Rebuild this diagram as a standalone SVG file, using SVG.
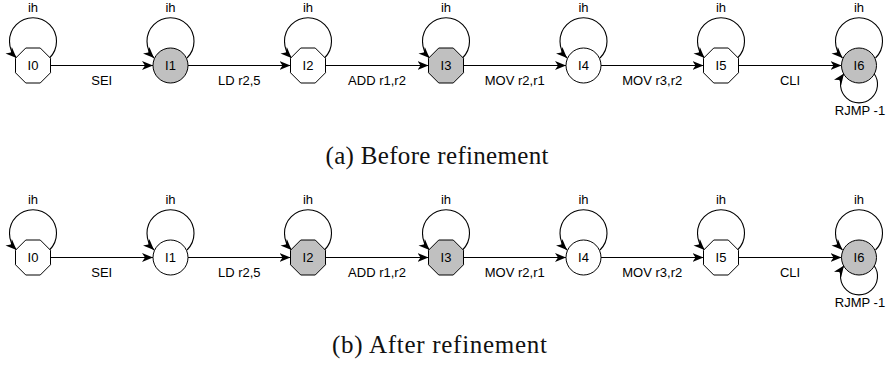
<svg xmlns="http://www.w3.org/2000/svg" width="895" height="369" viewBox="0 0 895 369">
<style>
.nd{stroke:#000;stroke-width:1;fill:#fff}
.g{fill:#c0c0c0}
.e{fill:none;stroke:#000;stroke-width:1.1;marker-end:url(#arr)}
.t{font-family:"Liberation Sans",Arial,sans-serif;font-size:13px;fill:#000;text-anchor:middle}
.cap{font-family:"Liberation Serif","Times New Roman",serif;font-size:25px;fill:#111;text-anchor:middle}
</style>
<defs>
<marker id="arr" viewBox="0 0 12 10" refX="11" refY="5" markerWidth="12" markerHeight="10" orient="auto" markerUnits="userSpaceOnUse">
<path d="M0,0.5 L11,5 L0,9.5 L3,5 z" fill="#000"/>
</marker>
<polygon id="oct" points="-7.25,-17.5 7.25,-17.5 17.5,-7.25 17.5,7.25 7.25,17.5 -7.25,17.5 -17.5,7.25 -17.5,-7.25"/>
</defs>

<!-- ===== Row (a) ===== -->
<g id="connectors-a">
<path class="e" d="M50.5,65.5 H153"/>
<path class="e" d="M188,65.5 H290.5"/>
<path class="e" d="M325.5,65.5 H428.5"/>
<path class="e" d="M463.5,65.5 H566"/>
<path class="e" d="M601,65.5 H703.5"/>
<path class="e" d="M738.5,65.5 H841.5"/>
<path class="e" d="M49.5,58 A23.5,23.5 0 1 0 16.5,58"/>
<path class="e" d="M187,58 A23.5,23.5 0 1 0 154,58"/>
<path class="e" d="M324.5,58 A23.5,23.5 0 1 0 291.5,58"/>
<path class="e" d="M462.5,58 A23.5,23.5 0 1 0 429.5,58"/>
<path class="e" d="M600,58 A23.5,23.5 0 1 0 567,58"/>
<path class="e" d="M737.5,58 A23.5,23.5 0 1 0 704.5,58"/>
<path class="e" d="M875.5,58 A23.5,23.5 0 1 0 842.5,58"/>
<path class="e" d="M874,73.5 A18.5,18.5 0 1 1 844,73.5"/>
<text class="t" x="101.75" y="85">SEI</text>
<text class="t" x="239.25" y="85">LD r2,5</text>
<text class="t" x="377" y="85">ADD r1,r2</text>
<text class="t" x="514.75" y="85">MOV r2,r1</text>
<text class="t" x="652.25" y="85">MOV r3,r2</text>
<text class="t" x="790" y="85">CLI</text>
<text class="t" x="33" y="12">ih</text>
<text class="t" x="170.5" y="12">ih</text>
<text class="t" x="308" y="12">ih</text>
<text class="t" x="446" y="12">ih</text>
<text class="t" x="583.5" y="12">ih</text>
<text class="t" x="721" y="12">ih</text>
<text class="t" x="859" y="12">ih</text>
<text class="t" x="860" y="115">RJMP -1</text>
</g>
<g id="a-I0"><use href="#oct" class="nd" x="33" y="65.5"/><text class="t" x="33" y="70">I0</text></g>
<g id="a-I1"><circle class="nd g" cx="170.5" cy="65.5" r="17.5"/><text class="t" x="170.5" y="70">I1</text></g>
<g id="a-I2"><use href="#oct" class="nd" x="308" y="65.5"/><text class="t" x="308" y="70">I2</text></g>
<g id="a-I3"><use href="#oct" class="nd g" x="446" y="65.5"/><text class="t" x="446" y="70">I3</text></g>
<g id="a-I4"><circle class="nd" cx="583.5" cy="65.5" r="17.5"/><text class="t" x="583.5" y="70">I4</text></g>
<g id="a-I5"><use href="#oct" class="nd" x="721" y="65.5"/><text class="t" x="721" y="70">I5</text></g>
<g id="a-I6"><circle class="nd g" cx="859" cy="65.5" r="17.5"/><text class="t" x="859" y="70">I6</text></g>
<text class="cap" x="437" y="164" textLength="223">(a) Before refinement</text>

<!-- ===== Row (b) ===== -->
<g id="connectors-b">
<path class="e" d="M50.5,257.5 H153"/>
<path class="e" d="M188,257.5 H290.5"/>
<path class="e" d="M325.5,257.5 H428.5"/>
<path class="e" d="M463.5,257.5 H566"/>
<path class="e" d="M601,257.5 H703.5"/>
<path class="e" d="M738.5,257.5 H841.5"/>
<path class="e" d="M49.5,250 A23.5,23.5 0 1 0 16.5,250"/>
<path class="e" d="M187,250 A23.5,23.5 0 1 0 154,250"/>
<path class="e" d="M324.5,250 A23.5,23.5 0 1 0 291.5,250"/>
<path class="e" d="M462.5,250 A23.5,23.5 0 1 0 429.5,250"/>
<path class="e" d="M600,250 A23.5,23.5 0 1 0 567,250"/>
<path class="e" d="M737.5,250 A23.5,23.5 0 1 0 704.5,250"/>
<path class="e" d="M875.5,250 A23.5,23.5 0 1 0 842.5,250"/>
<path class="e" d="M874,265.5 A18.5,18.5 0 1 1 844,265.5"/>
<text class="t" x="101.75" y="277">SEI</text>
<text class="t" x="239.25" y="277">LD r2,5</text>
<text class="t" x="377" y="277">ADD r1,r2</text>
<text class="t" x="514.75" y="277">MOV r2,r1</text>
<text class="t" x="652.25" y="277">MOV r3,r2</text>
<text class="t" x="790" y="277">CLI</text>
<text class="t" x="33" y="204">ih</text>
<text class="t" x="170.5" y="204">ih</text>
<text class="t" x="308" y="204">ih</text>
<text class="t" x="446" y="204">ih</text>
<text class="t" x="583.5" y="204">ih</text>
<text class="t" x="721" y="204">ih</text>
<text class="t" x="859" y="204">ih</text>
<text class="t" x="860" y="307">RJMP -1</text>
</g>
<g id="b-I0"><use href="#oct" class="nd" x="33" y="257.5"/><text class="t" x="33" y="262">I0</text></g>
<g id="b-I1"><circle class="nd" cx="170.5" cy="257.5" r="17.5"/><text class="t" x="170.5" y="262">I1</text></g>
<g id="b-I2"><use href="#oct" class="nd g" x="308" y="257.5"/><text class="t" x="308" y="262">I2</text></g>
<g id="b-I3"><use href="#oct" class="nd g" x="446" y="257.5"/><text class="t" x="446" y="262">I3</text></g>
<g id="b-I4"><circle class="nd" cx="583.5" cy="257.5" r="17.5"/><text class="t" x="583.5" y="262">I4</text></g>
<g id="b-I5"><use href="#oct" class="nd" x="721" y="257.5"/><text class="t" x="721" y="262">I5</text></g>
<g id="b-I6"><circle class="nd g" cx="859" cy="257.5" r="17.5"/><text class="t" x="859" y="262">I6</text></g>
<text class="cap" x="439.5" y="353" textLength="215">(b) After refinement</text>
</svg>
